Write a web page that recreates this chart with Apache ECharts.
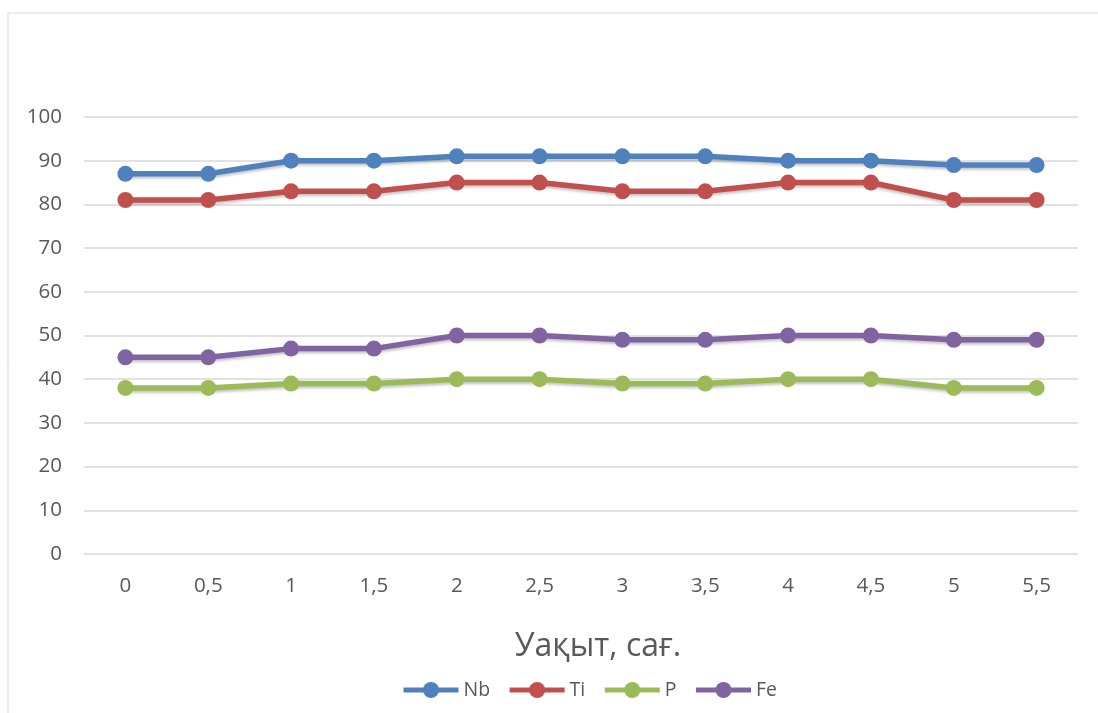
<!DOCTYPE html>
<html>
<head>
<meta charset="utf-8">
<script src="https://cdn.jsdelivr.net/npm/echarts@6/dist/echarts.min.js"></script>
<style>
  html, body { margin: 0; padding: 0; background: #fff; }
  #chart { width: 1098px; height: 713px; }
</style>
</head>
<body>
<div id="chart"></div>
<script>
// Time points (hours) along the x axis
const hours = ['0', '0,5', '1', '1,5', '2', '2,5', '3', '3,5', '4', '4,5', '5', '5,5'];

// Extraction values per element
const nb = [87, 87, 90, 90, 91, 91, 91, 91, 90, 90, 89, 89];
const ti = [81, 81, 83, 83, 85, 85, 83, 83, 85, 85, 81, 81];
const p  = [38, 38, 39, 39, 40, 40, 39, 39, 40, 40, 38, 38];
const fe = [45, 45, 47, 47, 50, 50, 49, 49, 50, 50, 49, 49];

const seriesNames = ['Nb', 'Ti', 'P', 'Fe'];
const seriesData = [nb, ti, p, fe];
const colors = ['#4f81bd', '#c0504d', '#9bbb59', '#8064a2'];

const fontFamily = '"Open Sans", sans-serif';

const chart = echarts.init(document.getElementById('chart'), null, { renderer: 'canvas' });

chart.setOption({
  animation: false,
  color: colors,
  graphic: [{
    type: 'rect',
    shape: { x: 8, y: 13, width: 1200, height: 800 },
    style: { fill: 'none', stroke: '#d9d9d9', lineWidth: 1 },
    silent: true,
    z: -10
  }],
  grid: { left: 84, right: 20, top: 117, bottom: 159 },
  legend: {
    bottom: 8,
    left: 396,
    itemWidth: 55,
    itemHeight: 20,
    itemGap: 17,
    lineStyle: { width: 5 },
    textStyle: { fontFamily, fontSize: 19.5, color: '#595959' },
    data: seriesNames
  },
  xAxis: {
    type: 'category',
    data: hours,
    boundaryGap: true,
    name: 'Уақыт, сағ.',
    nameLocation: 'middle',
    nameGap: 77,
    nameTextStyle: { fontFamily, fontSize: 32, color: '#595959', padding: [0, 0, 0, 34] },
    axisLine: { show: false },
    axisTick: { show: false },
    axisLabel: { fontFamily, fontSize: 20.5, color: '#595959', margin: 22 }
  },
  yAxis: {
    type: 'value',
    min: 0,
    max: 100,
    interval: 10,
    axisLine: { show: false },
    axisTick: { show: false },
    axisLabel: { fontFamily, fontSize: 20.5, color: '#595959', margin: 22 },
    splitLine: { lineStyle: { color: '#d9d9d9', width: 1.5 } }
  },
  series: seriesNames.map((name, i) => ({
    name,
    type: 'line',
    data: seriesData[i],
    symbol: 'circle',
    symbolSize: 16,
    lineStyle: {
      width: 5.5,
      shadowColor: 'rgba(0,0,0,0.25)',
      shadowBlur: 3,
      shadowOffsetY: 2
    },
    itemStyle: { color: colors[i] }
  }))
});
</script>
</body>
</html>
